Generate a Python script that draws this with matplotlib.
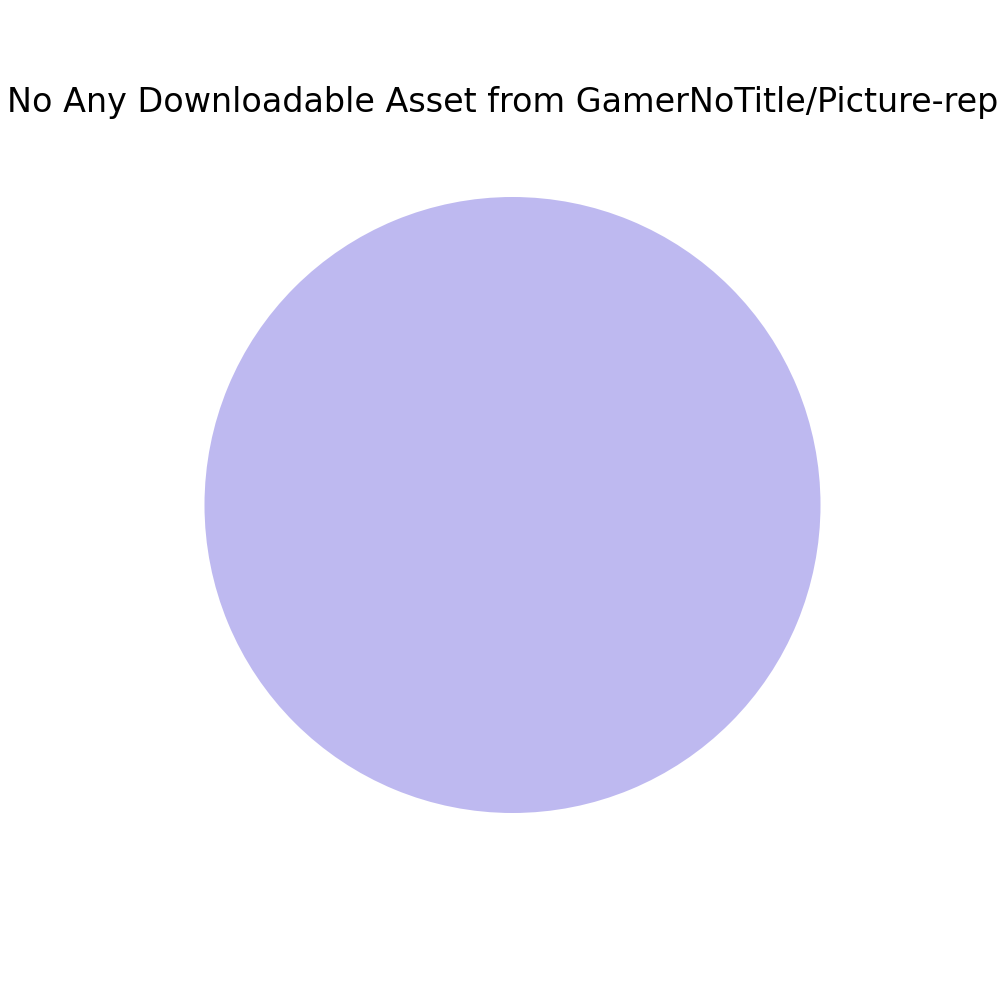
import matplotlib
matplotlib.use("Agg")
import matplotlib.pyplot as plt

labels = [""]
values = [1]
colors = ["#BEB9F0"]
title = "No Any Downloadable Asset from GamerNoTitle/Picture-repo"

fig, ax = plt.subplots(figsize=(10, 10), dpi=100)
ax.pie(values, labels=labels, colors=colors)
ax.set_title(title, fontsize=24)
fig.savefig("out.png", dpi=100)
